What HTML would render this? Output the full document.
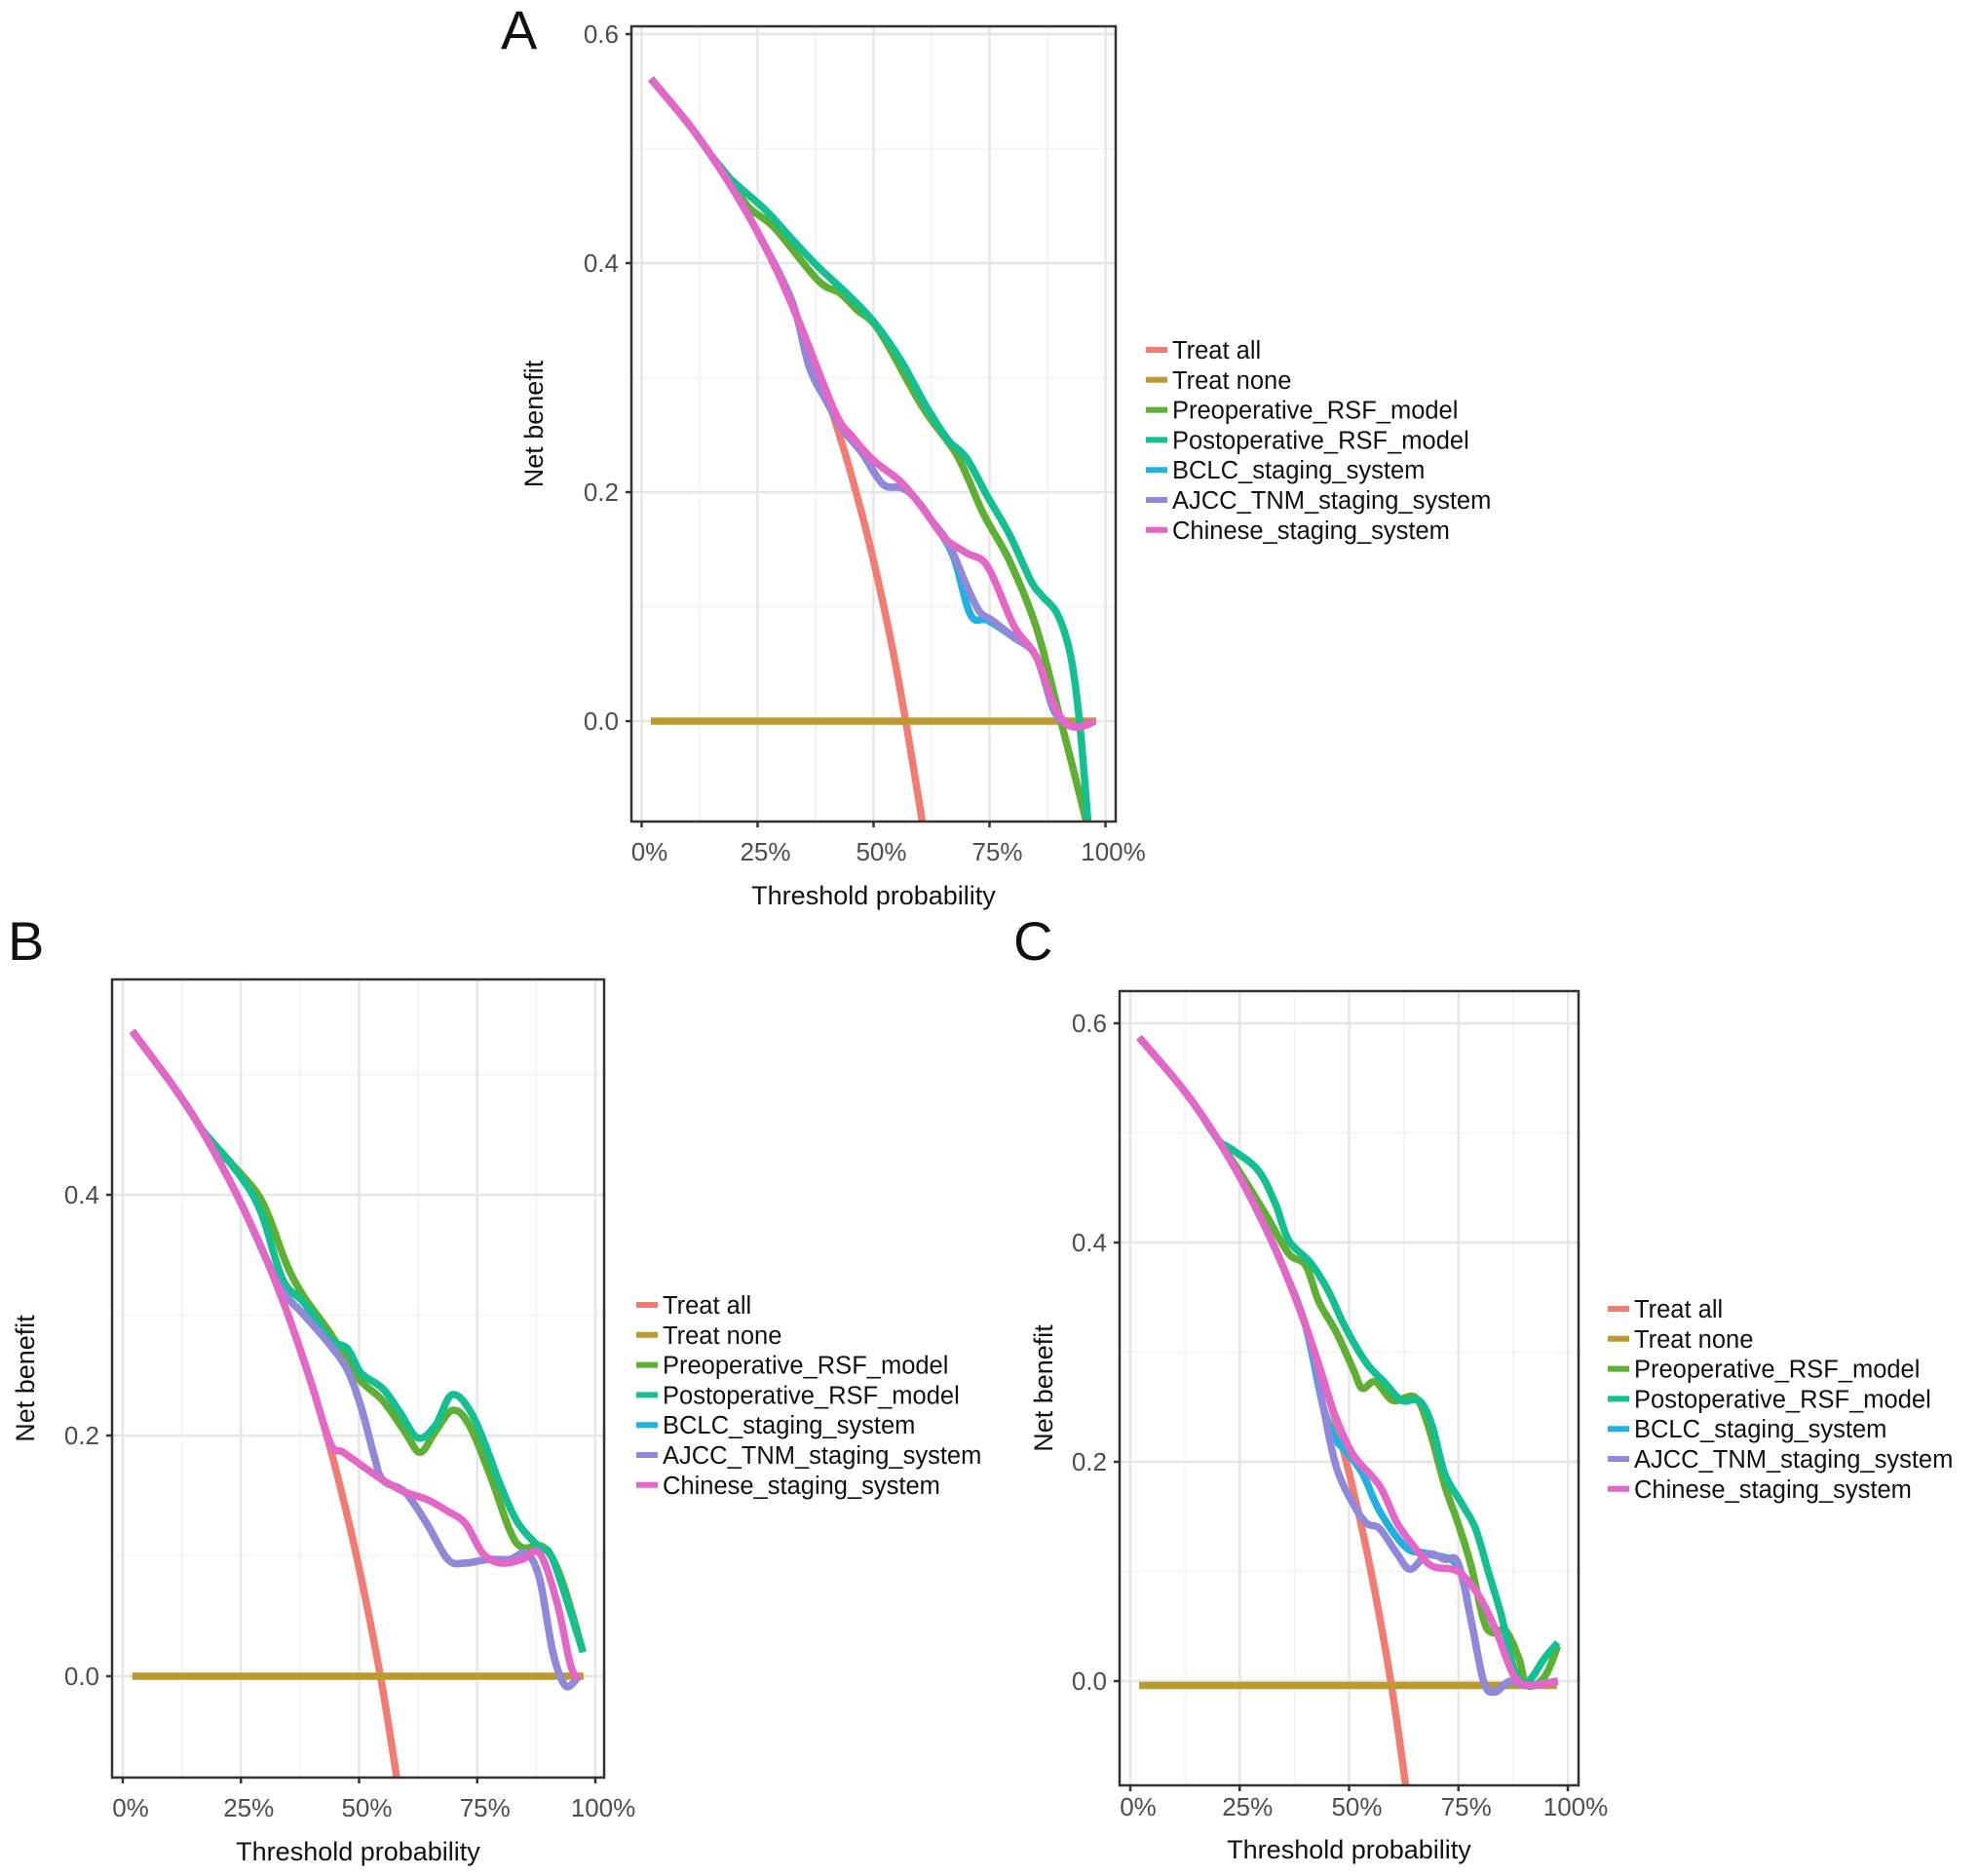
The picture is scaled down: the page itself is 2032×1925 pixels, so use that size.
<!DOCTYPE html>
<html><head><meta charset="utf-8"><style>
body{margin:0;background:#fff}
svg{display:block;font-family:"Liberation Sans",Arial,sans-serif}
</style></head><body>
<svg id="fig" width="2032" height="1925" viewBox="0 0 2032 1925" xmlns="http://www.w3.org/2000/svg"></svg>
<script>
// ---- data: [threshold, net benefit] ----
const seriesNames = ["Treat all","Treat none","Preoperative_RSF_model","Postoperative_RSF_model","BCLC_staging_system","AJCC_TNM_staging_system","Chinese_staging_system"];
const seriesColors = ["#F27C72","#BD9A2E","#5DB031","#14BF92","#1EB2E3","#9288DA","#E467C8"];
const xTickValues = [0,0.25,0.5,0.75,1];
const xTickLabels = ["0%","25%","50%","75%","100%"];

// Panel A
const aTreatAll = [[0.02,0.561],[0.1,0.522],[0.15,0.494],[0.2,0.4625],[0.25,0.427],[0.3,0.386],[0.35,0.338],[0.4,0.283],[0.45,0.218],[0.5,0.14],[0.55,0.044],[0.6,-0.075],[0.62,-0.132]];
const aTreatNone = [[0.02,0],[0.98,0]];
const aHead = [[0.02,0.561],[0.1,0.522],[0.15,0.494]];
const aPreop = [[0.188,0.475],[0.23,0.449],[0.286,0.431],[0.38,0.385],[0.427,0.374],[0.465,0.359],[0.512,0.341],[0.606,0.274],[0.68,0.232],[0.737,0.181],[0.793,0.14],[0.85,0.083],[0.897,0.011],[0.958,-0.087],[0.965,-0.11]];
const aPostop = [[0.188,0.475],[0.268,0.446],[0.324,0.421],[0.38,0.397],[0.446,0.372],[0.502,0.348],[0.559,0.315],[0.615,0.274],[0.662,0.245],[0.70,0.23],[0.746,0.196],[0.793,0.163],[0.84,0.122],[0.864,0.109],[0.897,0.093],[0.925,0.057],[0.944,0.0],[0.962,-0.087],[0.966,-0.11]];
const aBclc = [[0.2,0.4625],[0.25,0.427],[0.324,0.367],[0.361,0.31],[0.399,0.279],[0.437,0.253],[0.474,0.235],[0.52,0.207],[0.559,0.204],[0.587,0.196],[0.624,0.176],[0.671,0.145],[0.709,0.093],[0.746,0.088],[0.803,0.073],[0.85,0.057],[0.887,0.011],[0.915,-0.002],[0.944,-0.005],[0.977,0]];
const aAjcc = [[0.2,0.4625],[0.25,0.427],[0.324,0.367],[0.361,0.31],[0.399,0.279],[0.437,0.253],[0.474,0.235],[0.52,0.207],[0.559,0.204],[0.587,0.196],[0.624,0.176],[0.662,0.155],[0.70,0.119],[0.728,0.096],[0.756,0.088],[0.803,0.073],[0.85,0.057],[0.887,0.011],[0.915,-0.002],[0.944,-0.005],[0.977,0]];
const aChinese = [[0.2,0.4625],[0.25,0.427],[0.3,0.386],[0.35,0.338],[0.418,0.269],[0.455,0.248],[0.502,0.227],[0.559,0.209],[0.606,0.186],[0.653,0.160],[0.70,0.147],[0.746,0.135],[0.803,0.083],[0.85,0.057],[0.887,0.016],[0.915,-0.002],[0.944,-0.005],[0.977,0]];

// Panel B
const bTreatAll = [[0.02,0.536],[0.1,0.494],[0.15,0.465],[0.2,0.431],[0.25,0.393],[0.3,0.35],[0.35,0.30],[0.4,0.242],[0.45,0.173],[0.5,0.09],[0.55,-0.011],[0.6,-0.137]];
const bTreatNone = [[0.02,0],[0.975,0]];
const bHead = [[0.02,0.536],[0.1,0.494],[0.15,0.465]];
const bPreop = [[0.172,0.452],[0.228,0.427],[0.283,0.402],[0.31,0.381],[0.348,0.341],[0.384,0.315],[0.439,0.285],[0.495,0.249],[0.55,0.229],[0.597,0.203],[0.629,0.186],[0.661,0.203],[0.698,0.221],[0.734,0.208],[0.781,0.163],[0.818,0.122],[0.845,0.107],[0.891,0.107],[0.928,0.081],[0.974,0.02]];
const bPostop = [[0.172,0.452],[0.246,0.417],[0.292,0.386],[0.338,0.33],[0.384,0.31],[0.439,0.28],[0.476,0.272],[0.504,0.252],[0.55,0.239],[0.587,0.219],[0.624,0.198],[0.661,0.208],[0.698,0.234],[0.744,0.214],[0.80,0.158],[0.837,0.127],[0.882,0.107],[0.91,0.097],[0.974,0.02]];
const bBclc = [[0.2,0.431],[0.25,0.393],[0.3,0.35],[0.338,0.32],[0.384,0.30],[0.439,0.275],[0.476,0.254],[0.504,0.224],[0.532,0.183],[0.55,0.163],[0.597,0.153],[0.643,0.127],[0.688,0.097],[0.725,0.094],[0.772,0.097],[0.818,0.097],[0.854,0.102],[0.882,0.081],[0.91,0.02],[0.937,-0.008],[0.965,0]];
const bAjcc = [[0.2,0.431],[0.25,0.393],[0.3,0.35],[0.338,0.32],[0.384,0.30],[0.439,0.275],[0.476,0.254],[0.504,0.224],[0.532,0.183],[0.55,0.163],[0.597,0.153],[0.643,0.127],[0.688,0.097],[0.725,0.094],[0.772,0.097],[0.818,0.097],[0.854,0.102],[0.882,0.081],[0.91,0.02],[0.937,-0.008],[0.965,0]];
const bChinese = [[0.2,0.431],[0.25,0.393],[0.3,0.35],[0.35,0.30],[0.4,0.242],[0.44,0.193],[0.467,0.186],[0.513,0.173],[0.55,0.163],[0.597,0.153],[0.643,0.147],[0.688,0.137],[0.725,0.127],[0.762,0.102],[0.80,0.094],[0.845,0.097],[0.882,0.102],[0.919,0.061],[0.947,0.01],[0.965,-0.003]];

// Panel C
const cTreatAll = [[0.02,0.587],[0.1,0.55],[0.15,0.524],[0.2,0.494],[0.25,0.46],[0.3,0.421],[0.35,0.377],[0.4,0.325],[0.45,0.264],[0.5,0.19],[0.55,0.10],[0.6,-0.012],[0.65,-0.157]];
const cTreatNone = [[0.02,-0.004],[0.975,-0.004]];
const cHead = [[0.02,0.587],[0.1,0.55],[0.15,0.524],[0.2,0.494]];
const cPreop = [[0.252,0.463],[0.312,0.424],[0.362,0.39],[0.401,0.379],[0.431,0.346],[0.471,0.318],[0.51,0.284],[0.53,0.267],[0.56,0.273],[0.60,0.256],[0.65,0.259],[0.68,0.234],[0.719,0.178],[0.749,0.144],[0.779,0.105],[0.808,0.055],[0.828,0.044],[0.858,0.046],[0.888,0.021],[0.907,-0.004],[0.947,0.004],[0.977,0.032]];
const cPostop = [[0.232,0.485],[0.292,0.466],[0.332,0.435],[0.362,0.402],[0.411,0.382],[0.451,0.357],[0.491,0.323],[0.54,0.29],[0.58,0.273],[0.62,0.256],[0.66,0.256],[0.689,0.234],[0.719,0.189],[0.759,0.161],[0.789,0.139],[0.818,0.10],[0.848,0.06],[0.878,0.01],[0.907,-0.001],[0.947,0.021],[0.977,0.035]];
const cBclc = [[0.25,0.46],[0.3,0.421],[0.35,0.377],[0.4,0.325],[0.441,0.25],[0.471,0.22],[0.49,0.211],[0.53,0.19],[0.57,0.155],[0.63,0.122],[0.68,0.116],[0.749,0.105],[0.779,0.055],[0.808,-0.001],[0.833,-0.01],[0.868,0],[0.907,-0.004],[0.977,0]];
const cAjcc = [[0.25,0.46],[0.3,0.421],[0.35,0.377],[0.411,0.312],[0.441,0.25],[0.471,0.195],[0.51,0.161],[0.54,0.144],[0.57,0.139],[0.61,0.116],[0.64,0.102],[0.68,0.116],[0.719,0.111],[0.749,0.108],[0.779,0.055],[0.808,-0.001],[0.833,-0.01],[0.868,0],[0.907,-0.004],[0.977,0]];
const cChinese = [[0.25,0.46],[0.3,0.421],[0.35,0.377],[0.4,0.325],[0.45,0.264],[0.471,0.239],[0.51,0.206],[0.57,0.178],[0.61,0.144],[0.65,0.122],[0.689,0.105],[0.749,0.10],[0.798,0.077],[0.838,0.044],[0.878,0.004],[0.917,-0.004],[0.977,0]];

const NS = "http://www.w3.org/2000/svg";
const svg = document.getElementById("fig");
function mk(tag, attrs, parent){
  const e = document.createElementNS(NS, tag);
  for (const k in attrs) e.setAttribute(k, attrs[k]);
  (parent||svg).appendChild(e);
  return e;
}
function smoothPath(pts){
  let d = "M" + pts[0][0].toFixed(1) + "," + pts[0][1].toFixed(1);
  for (let i=0;i<pts.length-1;i++){
    const p0 = pts[i-1]||pts[i], p1=pts[i], p2=pts[i+1], p3=pts[i+2]||p2;
    const c1 = [p1[0]+(p2[0]-p0[0])/6, p1[1]+(p2[1]-p0[1])/6];
    const c2 = [p2[0]-(p3[0]-p1[0])/6, p2[1]-(p3[1]-p1[1])/6];
    d += "C"+c1[0].toFixed(1)+","+c1[1].toFixed(1)+" "+c2[0].toFixed(1)+","+c2[1].toFixed(1)+" "+p2[0].toFixed(1)+","+p2[1].toFixed(1);
  }
  return d;
}

function panel(cfg){
  const g = mk("g", {});
  
  
  const X = t => cfg.x0 + t*cfg.xs;
  const Y = v => cfg.y0 - v*cfg.ys;
  const clipId = "clip"+cfg.id;
  const cp = mk("clipPath", {id:clipId}, g);
  mk("rect", {x:cfg.L, y:cfg.T, width:cfg.R-cfg.L, height:cfg.B-cfg.T}, cp);
  for (let i=0;i<xTickValues.length-1;i++){
    const x = X((xTickValues[i]+xTickValues[i+1])/2);
    const m = mk("line", {x1:x,x2:x,y1:cfg.T,y2:cfg.B,stroke:"#F2F2F2","stroke-width":1.5}, g);
    
    
  }
  cfg.minorY.forEach(v=>{
    const y = Y(v);
    const m = mk("line", {x1:cfg.L,x2:cfg.R,y1:y,y2:y,stroke:"#F2F2F2","stroke-width":1.5}, g);
    
    
  });
  xTickValues.forEach((t,i)=>{
    const x = X(t);
    const l = mk("line", {x1:x,x2:x,y1:cfg.T,y2:cfg.B,stroke:"#E6E6E6","stroke-width":2.5}, g);
    
    
    const tk = mk("line", {x1:x,x2:x,y1:cfg.B,y2:cfg.B+6,stroke:"#333","stroke-width":2.5}, g);
    
    
    const tx = mk("text", {x:x+8,y:cfg.B+cfg.xlOff,"text-anchor":"middle","font-size":26,fill:"#4D4D4D"}, g);
    tx.textContent = xTickLabels[i];
    
    
  });
  cfg.yTicks.forEach(v=>{
    const y = Y(v);
    const l = mk("line", {x1:cfg.L,x2:cfg.R,y1:y,y2:y,stroke:"#E6E6E6","stroke-width":2.5}, g);
    
    
    const tk = mk("line", {x1:cfg.L-6,x2:cfg.L,y1:y,y2:y,stroke:"#333","stroke-width":2.5}, g);
    
    
    const tx = mk("text", {x:cfg.L-13,y:y+9,"text-anchor":"end","font-size":26,fill:"#4D4D4D"}, g);
    tx.textContent = v.toFixed(1);
    
    
  });
  const lines = mk("g", {"clip-path":"url(#"+clipId+")"}, g);
  cfg.series.forEach((s,i)=>{
    const pts = s.map(p=>[X(p[0]),Y(p[1])]);
    const p = mk("path", {d:smoothPath(pts),fill:"none",stroke:seriesColors[i],"stroke-width":7.5,"stroke-linejoin":"round"}, lines);
    
    
  });
  const box = mk("rect", {x:cfg.L,y:cfg.T,width:cfg.R-cfg.L,height:cfg.B-cfg.T,fill:"none",stroke:"#333","stroke-width":2.5}, g);
  
  
  const xt = mk("text", {x:(cfg.L+cfg.R)/2,y:cfg.B+cfg.xtOff,"text-anchor":"middle","font-size":27,fill:"#111"}, g);
  xt.textContent = "Threshold probability";
  
  
  const cy = (cfg.T+cfg.B)/2;
  const yt = mk("text", {x:cfg.ytx,y:cy,"text-anchor":"middle","font-size":27,fill:"#111",transform:"rotate(-90 "+cfg.ytx+" "+cy+")"}, g);
  yt.textContent = "Net benefit";
  
  
  const lt = mk("text", {x:cfg.letterX,y:cfg.letterY,"font-size":56,fill:"#111"}, g);
  lt.textContent = cfg.id;
  
  
  const lg = mk("g", {}, g);
  
  
  seriesNames.forEach((n,i)=>{
    const y = cfg.legY + i*30.8;
    const k = mk("line", {x1:cfg.legX,x2:cfg.legX+22,y1:y,y2:y,stroke:seriesColors[i],"stroke-width":6}, lg);
    
    
    const t = mk("text", {x:cfg.legX+27,y:y+9,"font-size":25.5,fill:"#111"}, lg);
    t.textContent = n;
    
    
  });
}

panel({id:"A",L:648,R:1145,T:27,B:843,x0:658.5,xs:476,y0:740,ys:1175,xlOff:40,xtOff:85,
  yTicks:[0,0.2,0.4,0.6],minorY:[0.1,0.3,0.5],ytx:557,letterX:514,letterY:50,legX:1176,legY:359,
  series:[aTreatAll,aTreatNone,aHead.concat(aPreop),aHead.concat(aPostop),aHead.concat(aBclc),aHead.concat(aAjcc),aHead.concat(aChinese)]});
panel({id:"B",L:115,R:620,T:1005,B:1824,x0:126,xs:485,y0:1720,ys:1235,xlOff:40,xtOff:85,
  yTicks:[0,0.2,0.4],minorY:[0.1,0.3,0.5],ytx:35,letterX:8,letterY:985,legX:653,legY:1339,
  series:[bTreatAll,bTreatNone,bHead.concat(bPreop),bHead.concat(bPostop),bHead.concat(bBclc),bHead.concat(bAjcc),bHead.concat(bChinese)]});
panel({id:"C",L:1149,R:1620,T:1017,B:1832,x0:1160,xs:449,y0:1725,ys:1125,xlOff:31,xtOff:75,
  yTicks:[0,0.2,0.4,0.6],minorY:[0.1,0.3,0.5],ytx:1080,letterX:1040,letterY:985,legX:1650,legY:1343,
  series:[cTreatAll,cTreatNone,cHead.concat(cPreop),cHead.concat(cPostop),cHead.concat(cBclc),cHead.concat(cAjcc),cHead.concat(cChinese)]});
</script>
</body></html>
